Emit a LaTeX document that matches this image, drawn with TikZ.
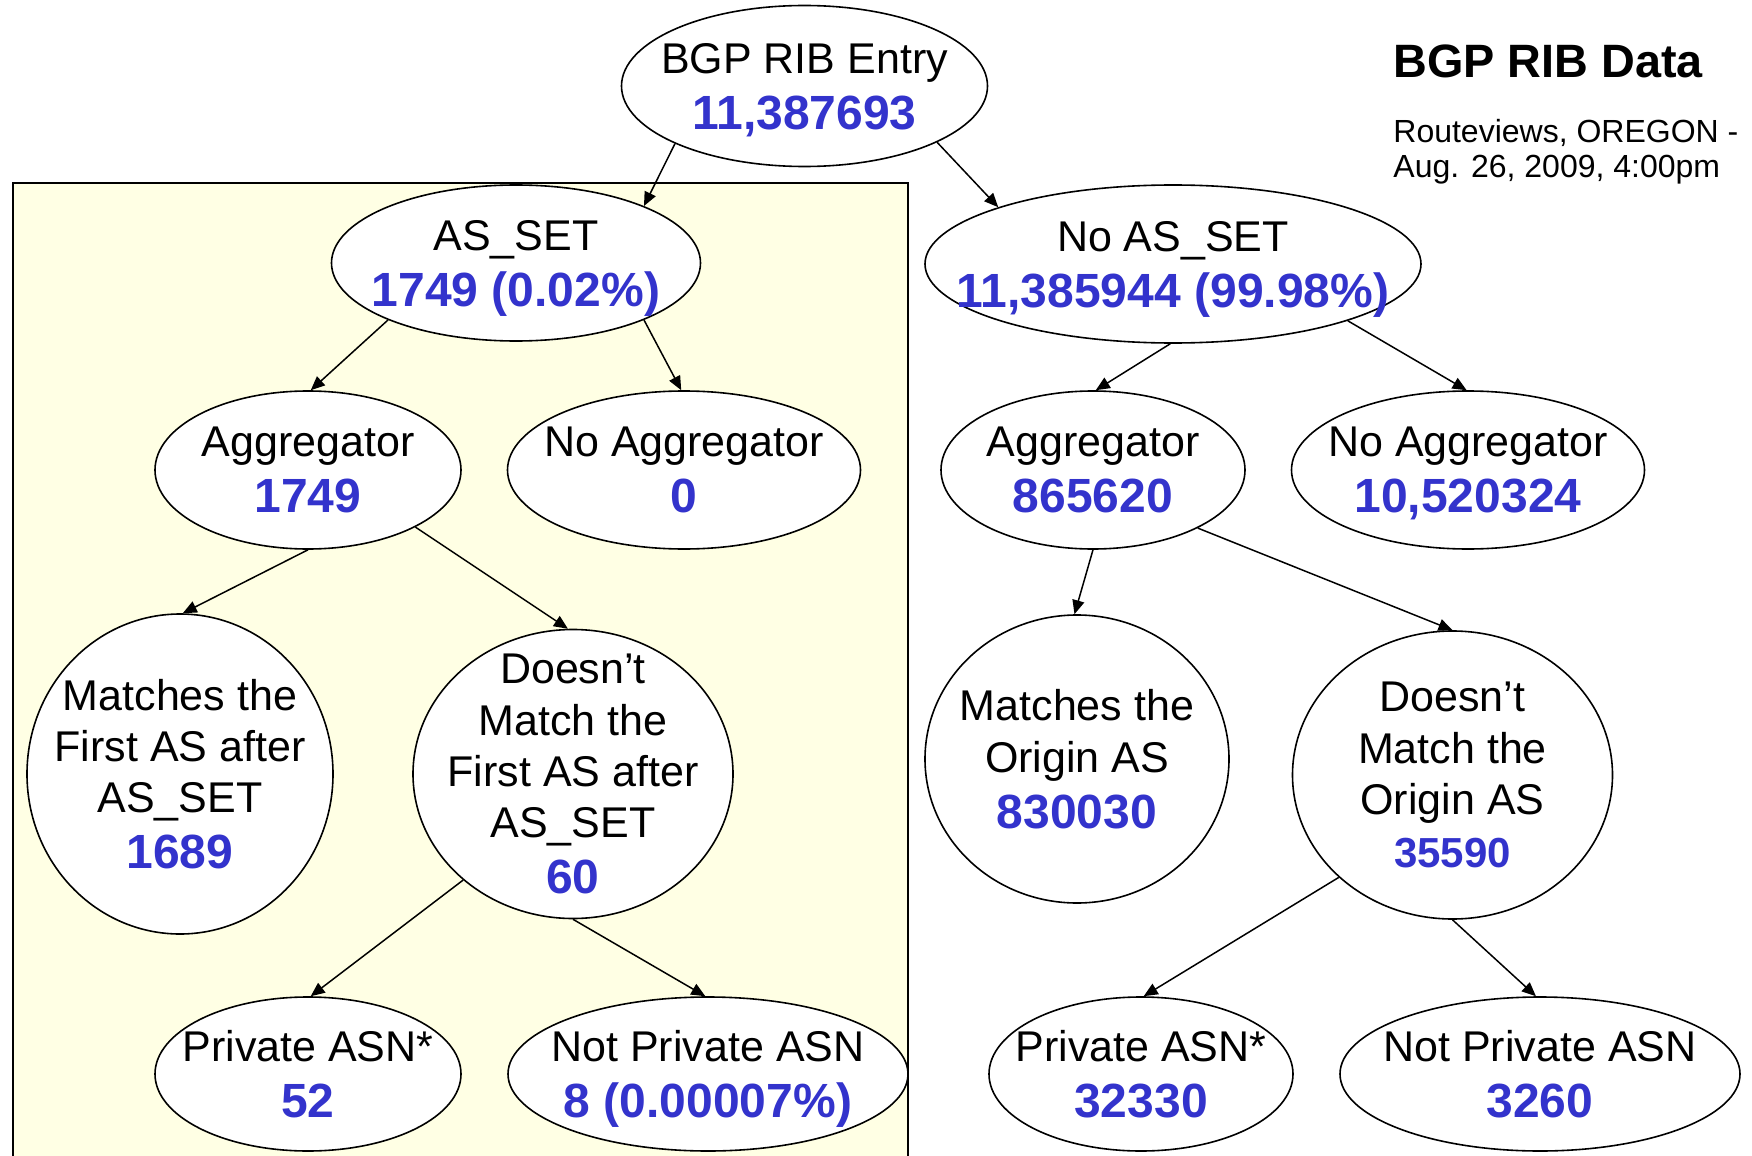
\documentclass[tikz,border=0pt]{standalone}
\usepackage{fontspec}
\setmainfont{Liberation Sans}
\usetikzlibrary{arrows.meta,shapes.geometric}
\definecolor{numblue}{RGB}{51,51,204}
\definecolor{boxyellow}{RGB}{255,255,228}
\newcommand{\bignum}[1]{{\color{numblue}\fontsize{24}{28}\selectfont\bfseries #1}}

\begin{document}
\begin{tikzpicture}[x=0.5pt,y=-0.5pt]
	\tikzset{>={Stealth[inset=0pt,length=7pt,width=6pt]}}
	\tikzset{oval/.style={draw,ellipse,fill=white,inner sep=-60pt,text depth=0pt,line width=0.8pt,align=center,font=\fontsize{21.5}{25.7}\selectfont}}
	\tikzset{link/.style={->,line width=0.75pt}}
	\useasboundingbox (0,0) rectangle (1752,1156);
	% AS_SET branch box
	\fill[boxyellow] (13,183) rectangle (908,1160);
	\draw[line width=0.9pt] (13,1160) -- (13,183) -- (908,183) -- (908,1160);
	% title
	\node[anchor=base west,inner sep=0pt,font=\fontsize{23.4}{27}\selectfont\bfseries] (title) at (1393,78) {BGP RIB Data};
	\node[anchor=north west,inner sep=0pt,align=left,font=\fontsize{16}{17.5}\selectfont] (source) at (1393,119) {Routeviews, OREGON -\\Aug. 26, 2009, 4:00pm};
	% tree
	\node[oval,minimum width=183pt,minimum height=80.5pt] (rib) at (804.5,86) {BGP RIB Entry\\[2.3pt]\bignum{11,387693}};
	\node[oval,minimum width=184.5pt,minimum height=78pt] (asset) at (516,263) {AS\_SET\\[2.3pt]\bignum{1749 (0.02\%)}};
	\node[oval,minimum width=248pt,minimum height=79pt] (noasset) at (1173,264) {No AS\_SET\\[2.3pt]\bignum{11,385944 (99.98\%)}};
	\node[oval,minimum width=153pt,minimum height=79pt] (aggL) at (308,470) {Aggregator\\[2.3pt]\bignum{1749}};
	\node[oval,minimum width=176.5pt,minimum height=79pt] (noaggL) at (684,470) {No Aggregator\\[2.3pt]\bignum{0}};
	\node[oval,minimum width=152pt,minimum height=79pt] (aggR) at (1093,470) {Aggregator\\[2.3pt]\bignum{865620}};
	\node[oval,minimum width=176.5pt,minimum height=79pt] (noaggR) at (1468,470) {No Aggregator\\[2.3pt]\bignum{10,520324}};
	\node[oval,minimum width=153pt,minimum height=160pt] (matchL) at (180,774) {Matches the\\First AS after\\AS\_SET\\[2.3pt]\bignum{1689}};
	\node[oval,minimum width=160pt,minimum height=144.5pt] (diffL) at (573,774) {Doesn’t\\Match the\\First AS after\\AS\_SET\\[2.3pt]\bignum{60}};
	\node[oval,minimum width=152pt,minimum height=144pt] (matchR) at (1077,759) {Matches the\\Origin AS\\[2.3pt]\bignum{830030}};
	\node[oval,minimum width=160pt,minimum height=144pt] (diffR) at (1452.5,775) {Doesn’t\\Match the\\Origin AS\\[1pt]{\color{numblue}\fontsize{21}{25}\selectfont\bfseries 35590}};
	\node[oval,minimum width=153pt,minimum height=77pt] (privL) at (308,1074) {Private ASN*\\[2.3pt]\bignum{52}};
	\node[oval,minimum width=200pt,minimum height=77pt] (npL) at (708,1074) {Not Private ASN\\[2.3pt]\bignum{8 (0.00007\%)}};
	\node[oval,minimum width=152pt,minimum height=77pt] (privR) at (1141,1074) {Private ASN*\\[2.3pt]\bignum{32330}};
	\node[oval,minimum width=200pt,minimum height=77pt] (npR) at (1540,1074) {Not Private ASN\\[2.3pt]\bignum{3260}};
	% connectors
	\draw[link] (rib.204) -- (asset.24);
	\draw[link] (rib.337) -- (noasset.162);
	\draw[link] (asset.204) -- (aggL.88);
	\draw[link] (asset.336) -- (noaggL.92);
	\draw[link] (noasset.268) -- (aggR.88);
	\draw[link] (noasset.342) -- (noaggR.91);
	\draw[link] (aggL.270) -- (matchL.89);
	\draw[link] (aggL.332) -- (diffL.92);
	\draw[link] (diffL.224) -- (privL.88);
	\draw[link] (diffL.270) -- (npL.92);
	\draw[link] (aggR.270) -- (matchR.91);
	\draw[link] (aggR.331) -- (diffR.90);
	\draw[link] (diffR.222) -- (privR.88);
	\draw[link] (diffR.270) -- (npR.93);
\end{tikzpicture}
\end{document}
